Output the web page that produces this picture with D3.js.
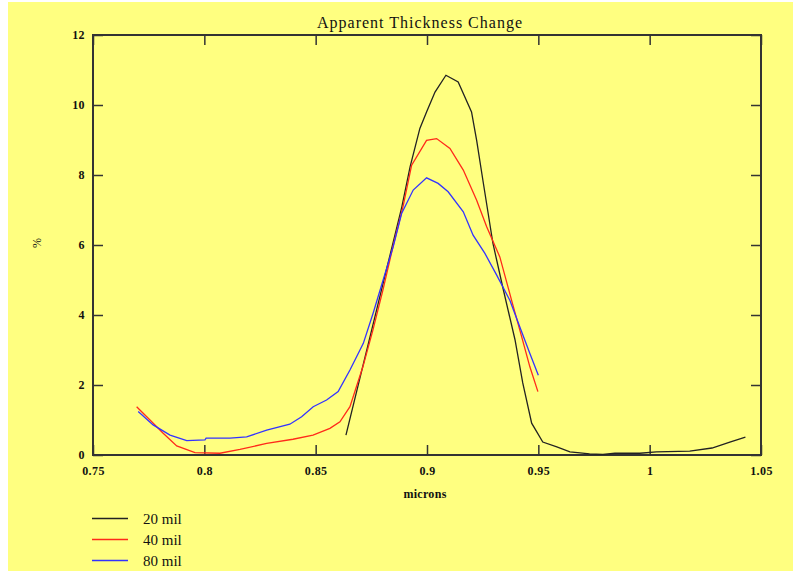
<!DOCTYPE html>
<html lang="en">
<head>
<meta charset="UTF-8">
<title>Apparent Thickness Change</title>
<script src="https://cdn.jsdelivr.net/npm/d3@7"></script>
<style>
	body { margin: 0; background: #fff; }
	text { font-family: "Liberation Serif", "DejaVu Serif", serif; fill: #111; }
</style>
</head>
<body>
<svg id="chart" width="796" height="571"></svg>
<script>
	// values
	let xTicks = [0.75, 0.8, 0.85, 0.9, 0.95, 1, 1.05];
	let yTicks = [0, 2, 4, 6, 8, 10, 12];
	let seriesNames = ["20 mil", "40 mil", "80 mil"];
	let seriesColors = ["#222", "#ff2a1a", "#3333ff"];

	let mil20 = [
		[0.8636, 0.57], [0.8887, 7.09], [0.8924, 8.23], [0.8968, 9.33], [0.8998, 9.8],
		[0.9036, 10.37], [0.9085, 10.85], [0.914, 10.66], [0.92, 9.8], [0.9223, 8.99],
		[0.9251, 7.85], [0.9296, 6.05], [0.934, 4.8], [0.9395, 3.3], [0.943, 2.06],
		[0.947, 0.91], [0.952, 0.37], [0.9583, 0.23], [0.9642, 0.09], [0.9687, 0.06],
		[0.973, 0.03], [0.979, 0.02], [0.9844, 0.05], [0.9956, 0.05], [1.003, 0.09],
		[1.018, 0.11], [1.028, 0.2], [1.036, 0.37], [1.043, 0.51]
	];
	let mil40 = [
		[0.7696, 1.38], [0.7756, 1.0], [0.7814, 0.63], [0.7876, 0.26], [0.7958, 0.07],
		[0.807, 0.05], [0.816, 0.16], [0.828, 0.33], [0.8398, 0.45], [0.8488, 0.57],
		[0.8564, 0.76], [0.8609, 0.95], [0.8654, 1.38], [0.8712, 2.52], [0.8757, 3.57],
		[0.8802, 4.71], [0.8847, 5.95], [0.8892, 7.09], [0.8931, 8.28], [0.8998, 8.99],
		[0.9043, 9.04], [0.9103, 8.76], [0.9163, 8.14], [0.9223, 7.28], [0.9268, 6.52],
		[0.9327, 5.66], [0.938, 4.42], [0.9425, 3.38], [0.9462, 2.52], [0.9498, 1.81]
	];
	let mil80 = [
		[0.7703, 1.24], [0.777, 0.86], [0.7846, 0.57], [0.7921, 0.41], [0.8003, 0.43],
		[0.8008, 0.48], [0.8115, 0.48], [0.819, 0.52], [0.828, 0.71], [0.8384, 0.88],
		[0.8437, 1.09], [0.8489, 1.38], [0.8549, 1.57], [0.8601, 1.81], [0.8654, 2.43],
		[0.8699, 3.0], [0.8714, 3.19], [0.8758, 4.05], [0.8803, 5.0], [0.8848, 5.95],
		[0.8886, 6.9], [0.8938, 7.57], [0.8998, 7.92], [0.905, 7.76], [0.9095, 7.52],
		[0.9163, 6.95], [0.9207, 6.28], [0.926, 5.76], [0.9313, 5.14], [0.9372, 4.42],
		[0.9417, 3.66], [0.9462, 2.9], [0.95, 2.28]
	];
	let series = [mil20, mil40, mil80];

	let svg = d3.select("#chart");
	let plotL = 93, plotR = 761, plotT = 35, plotB = 455;

	svg.append("rect")
		.attr("x", 8).attr("y", 2)
		.attr("width", 785).attr("height", 569)
		.attr("fill", "#ffff80");

	let x = d3.scaleLinear().domain([0.75, 1.05]).range([plotL, plotR]);
	let y = d3.scaleLinear().domain([0, 12]).range([plotB, plotT]);

	// frame
	svg.append("rect")
		.attr("x", plotL).attr("y", plotT)
		.attr("width", plotR - plotL).attr("height", plotB - plotT)
		.attr("fill", "none").attr("stroke", "#333").attr("stroke-width", 2);

	function styleAxis(g) {
		g.select(".domain").remove();
		g.selectAll(".tick line").attr("stroke", "#333").attr("stroke-width", 1.5);
		g.selectAll(".tick text")
			.style("font-size", "12px")
			.style("font-weight", "bold")
			.style("letter-spacing", "0.4px")
			.attr("fill", "#222");
	}

	let fmt = d => String(+d.toFixed(2));

	svg.append("g")
		.attr("transform", `translate(0,${plotB})`)
		.call(d3.axisBottom(x).tickValues(xTicks).tickFormat(fmt).tickSize(-10).tickPadding(11))
		.call(styleAxis);
	svg.append("g")
		.attr("transform", `translate(0,${plotT})`)
		.call(d3.axisTop(x).tickValues(xTicks).tickFormat("").tickSize(-10))
		.call(styleAxis);
	svg.append("g")
		.attr("transform", `translate(${plotL},0)`)
		.call(d3.axisLeft(y).tickValues(yTicks).tickSize(-10).tickPadding(8))
		.call(styleAxis);
	svg.append("g")
		.attr("transform", `translate(${plotR},0)`)
		.call(d3.axisRight(y).tickValues(yTicks).tickFormat("").tickSize(-10))
		.call(styleAxis);

	let line = d3.line().x(d => x(d[0])).y(d => y(d[1]));

	svg.selectAll("path.series")
		.data(series)
		.enter()
		.append("path")
		.attr("class", "series")
		.attr("d", line)
		.attr("fill", "none")
		.attr("stroke", (d, i) => seriesColors[i])
		.attr("stroke-width", 1.3);

	svg.append("text")
		.attr("x", 420).attr("y", 28)
		.attr("text-anchor", "middle")
		.style("font-size", "16px")
		.style("letter-spacing", "1px")
		.text("Apparent Thickness Change");

	svg.append("text")
		.attr("transform", "translate(41,243) rotate(-90)")
		.attr("text-anchor", "middle")
		.style("font-size", "12px")
		.text("%");

	svg.append("text")
		.attr("x", 425).attr("y", 498)
		.attr("text-anchor", "middle")
		.style("font-size", "12px")
		.style("font-weight", "bold")
		.style("letter-spacing", "0.3px")
		.text("microns");

	let legend = svg.selectAll("g.legend")
		.data(seriesNames)
		.enter()
		.append("g")
		.attr("class", "legend")
		.attr("transform", (d, i) => `translate(0,${518.5 + i * 21})`);
	legend.append("line")
		.attr("x1", 92).attr("x2", 128)
		.attr("stroke", (d, i) => seriesColors[i])
		.attr("stroke-width", 1.5);
	legend.append("text")
		.attr("x", 143).attr("y", 5)
		.style("font-size", "15px")
		.text(d => d);
</script>
</body>
</html>
